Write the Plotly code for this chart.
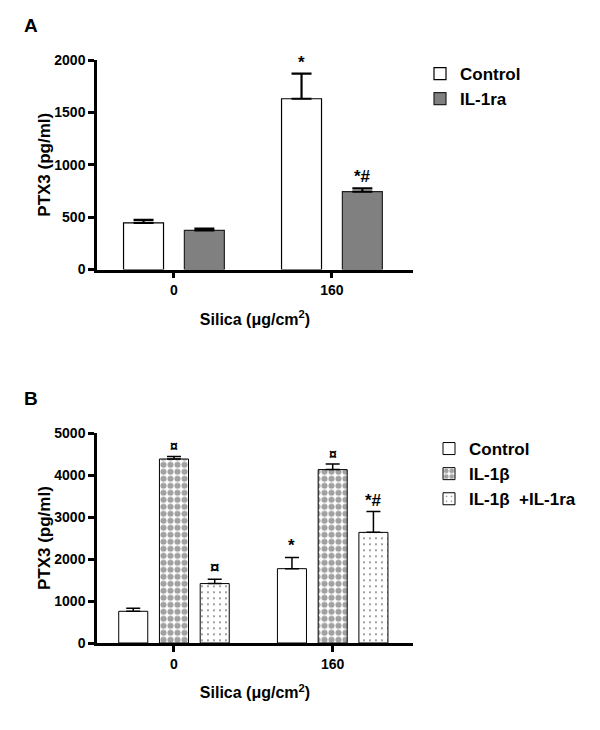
import plotly.graph_objects as go

# ---------------- data ----------------
silica = ["0", "160"]

# Panel A
a_control = [445, 1630]
a_control_err = [28, 240]
a_il1ra = [374, 743]
a_il1ra_err = [16, 31]
a_control_marks = ["", "*"]
a_il1ra_marks = ["", "*#"]

# Panel B
b_control = [756, 1772]
b_control_err = [71, 267]
b_il1b = [4387, 4134]
b_il1b_err = [62, 134]
b_combo = [1417, 2638]
b_combo_err = [103, 496]
b_control_marks = ["", "*"]
b_il1b_marks = ["¤", "¤"]
b_combo_marks = ["¤", "*#"]

a_yticks = [0, 500, 1000, 1500, 2000]
b_yticks = [0, 1000, 2000, 3000, 4000, 5000]

# ---------------- style ----------------
FONT = "Liberation Sans, Arial, sans-serif"
W, H = 600, 730
BARGAP = 0.23


def err(vals, width, thick):
    return dict(type="data", array=vals, arrayminus=[0] * len(vals), symmetric=False,
                color="black", thickness=thick, width=width)


fig = go.Figure()

# Panel A traces
fig.add_trace(go.Bar(x=silica, y=a_control, name="Control", xaxis="x", yaxis="y",
                     legend="legend", width=0.253,
                     marker=dict(color="white", line=dict(color="black", width=1.2)),
                     error_y=err(a_control_err, 10, 2.2)))
fig.add_trace(go.Bar(x=silica, y=a_il1ra, name="IL-1ra", xaxis="x", yaxis="y",
                     legend="legend", width=0.253,
                     marker=dict(color="#808080", line=dict(color="#222222", width=1.2)),
                     error_y=err(a_il1ra_err, 10, 2.2)))

# Panel B traces
fig.add_trace(go.Bar(x=silica, y=b_control, name="Control", xaxis="x2", yaxis="y2",
                     legend="legend2", width=0.183,
                     marker=dict(color="white", line=dict(color="black", width=1)),
                     error_y=err(b_control_err, 7, 1.5)))
fig.add_trace(go.Bar(x=silica, y=b_il1b, name="IL-1β", xaxis="x2", yaxis="y2",
                     legend="legend2", width=0.183,
                     marker=dict(color="white", line=dict(color="black", width=1),
                                 pattern=dict(shape=".", fgcolor="#444444", bgcolor="white",
                                              size=7, solidity=0.6)),
                     error_y=err(b_il1b_err, 7, 1.5)))
fig.add_trace(go.Bar(x=silica, y=b_combo, name="IL-1β  +IL-1ra", xaxis="x2", yaxis="y2",
                     legend="legend2", width=0.183,
                     marker=dict(color="white", line=dict(color="black", width=1),
                                 pattern=dict(shape=".", fgcolor="black", bgcolor="white",
                                              size=6, solidity=0.08)),
                     error_y=err(b_combo_err, 7, 1.5)))

# ---------------- significance marks ----------------
annotations = []


def add_marks(vals, errs, marks, xref, yref, xshift, size):
    for idx, (v, e, m) in enumerate(zip(vals, errs, marks)):
        if m:
            annotations.append(dict(x=idx, y=v + e, xref=xref, yref=yref, text=m,
                                    showarrow=False, xshift=xshift, yshift=0,
                                    yanchor="bottom", xanchor="center",
                                    font=dict(family=FONT, size=size, color="black",
                                              weight="bold")))


a_off = (1 - BARGAP) / 4 * 158
b_off = (1 - BARGAP) / 3 * 158.7
add_marks(a_control, a_control_err, a_control_marks, "x", "y", -a_off, 17)
add_marks(a_il1ra, a_il1ra_err, a_il1ra_marks, "x", "y", a_off, 17)
add_marks(b_control, b_control_err, b_control_marks, "x2", "y2", -b_off, 17)
add_marks(b_il1b, b_il1b_err, b_il1b_marks, "x2", "y2", 0, 14)
add_marks(b_combo, b_combo_err, b_combo_marks, "x2", "y2", b_off, 17)

# panel letters
for letter, ypx in (("A", 25), ("B", 398)):
    annotations.append(dict(x=22 / W, y=1 - ypx / H, xref="paper", yref="paper", text=letter,
                            showarrow=False, xanchor="left", yanchor="middle",
                            font=dict(family=FONT, size=19, color="black", weight="bold")))

tickfont = dict(family=FONT, size=14, color="black", weight="bold")
titlefont = dict(family=FONT, size=16, color="black", weight="bold")
ytitlefont = dict(family=FONT, size=17, color="black", weight="bold")

axis_common = dict(showline=True, linecolor="black", linewidth=2.5, ticks="outside",
                   ticklen=6, tickwidth=2.5, tickcolor="black", showgrid=False,
                   zeroline=False, tickfont=tickfont, mirror=False, automargin=False)

xtitle = "Silica (μg/cm<sup>2</sup>)"
ytitle = "PTX3 (pg/ml)"

fig.update_layout(
    width=W, height=H,
    margin=dict(l=0, r=0, t=0, b=0, autoexpand=False),
    paper_bgcolor="white", plot_bgcolor="white",
    barmode="group", bargap=BARGAP, bargroupgap=0,
    font=dict(family=FONT, color="black"),
    annotations=annotations,
    xaxis=dict(domain=[97 / W, 413 / W], anchor="y", type="category", range=[-0.487, 1.513],
               title=dict(text=xtitle, font=titlefont, standoff=17), **axis_common),
    yaxis=dict(domain=[1 - 269.5 / H, 1 - 60 / H], anchor="x", range=[0, 2000],
               tickvals=a_yticks, title=dict(text=ytitle, font=ytitlefont, standoff=0),
               **axis_common),
    xaxis2=dict(domain=[97 / W, 413 / W], anchor="y2", type="category", range=[-0.485, 1.506],
                title=dict(text=xtitle, font=titlefont, standoff=17), **axis_common),
    yaxis2=dict(domain=[1 - 643 / H, 1 - 433.3 / H], anchor="x2", range=[0, 5000],
                tickvals=b_yticks, title=dict(text=ytitle, font=ytitlefont, standoff=0),
                **axis_common),
    legend=dict(x=420 / W, y=1 - 56 / H, xanchor="left", yanchor="top",
                font=dict(family=FONT, size=17, color="black", weight="bold"),
                bgcolor="rgba(0,0,0,0)", tracegroupgap=0, itemwidth=30),
    legend2=dict(x=429 / W, y=1 - 431 / H, xanchor="left", yanchor="top",
                 font=dict(family=FONT, size=17, color="black", weight="bold"),
                 bgcolor="rgba(0,0,0,0)", tracegroupgap=0, itemwidth=30),
)

fig.write_html("out.html", config={"displayModeBar": False},
               post_script="document.body.style.margin='0';")
